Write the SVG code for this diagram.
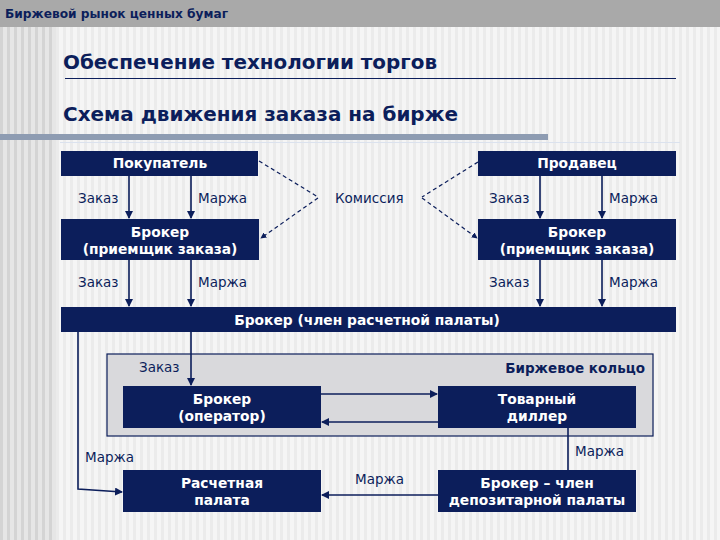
<svg xmlns="http://www.w3.org/2000/svg" width="720" height="540" viewBox="0 0 720 540">
<defs>
<pattern id="stripes" width="7" height="10" patternUnits="userSpaceOnUse">
<rect width="7" height="10" fill="#f5f5f5"/>
<rect x="0" width="3" height="10" fill="#ebebeb"/>
</pattern>
<pattern id="stripesL" width="7" height="10" patternUnits="userSpaceOnUse">
<rect width="7" height="10" fill="#e6e6e6"/>
<rect x="0" width="3" height="10" fill="#d4d4d4"/>
</pattern>
<marker id="ah" viewBox="0 0 8 8" refX="7" refY="4" markerWidth="5" markerHeight="5" orient="auto">
<path d="M0,0 L8,4 L0,8 z" fill="#0c1e5b"/>
</marker>
</defs>
<style>
.box{fill:#0c1e5b}
.bt{font-family:"DejaVu Sans",sans-serif;font-weight:bold;font-size:13.8px;fill:#ffffff;text-anchor:middle}
.lb{font-family:"DejaVu Sans",sans-serif;font-size:13.5px;fill:#0c1e5b}
.ln{stroke:#0c1e5b;stroke-width:1.6;fill:none}
.dl{stroke:#0c1e5b;stroke-width:1.2;fill:none;stroke-dasharray:4 3}
.ttl{font-family:"DejaVu Sans",sans-serif;font-weight:bold;font-size:19px;fill:#0c1e5b}
</style>
<rect width="720" height="540" fill="url(#stripes)"/>
<rect x="0" y="26" width="56" height="514" fill="url(#stripesL)"/>
<rect x="0" y="0" width="720" height="27" fill="#a9a9a9"/>
<text x="5" y="18" font-family="DejaVu Sans Condensed, DejaVu Sans, sans-serif" font-weight="bold" font-size="12.5" fill="#0c1e5b" textLength="223" lengthAdjust="spacingAndGlyphs">Биржевой рынок ценных бумаг</text>
<text class="ttl" x="63" y="69" textLength="374" lengthAdjust="spacingAndGlyphs">Обеспечение технологии торгов</text>
<line x1="65" y1="78.5" x2="676" y2="78.5" stroke="#0c1e5b" stroke-width="1.2"/>
<text class="ttl" x="63" y="121" textLength="395" lengthAdjust="spacingAndGlyphs">Схема движения заказа на бирже</text>
<rect x="0" y="134" width="548" height="6" fill="#8e9cb2"/>
<line x1="60" y1="142.5" x2="680" y2="142.5" stroke="#dbe2ee" stroke-width="1"/>

<g id="ring">
<rect x="107" y="354" width="546" height="82" fill="#d9d9dc" stroke="#0c1e5b" stroke-width="1.2"/>
<text x="645" y="373" font-family="DejaVu Sans,sans-serif" font-weight="bold" font-size="13.5" fill="#0c1e5b" text-anchor="end">Биржевое кольцо</text>
</g>

<g id="connectors">
<line class="ln" x1="129" y1="176" x2="129" y2="218" marker-end="url(#ah)"/>
<line class="ln" x1="191" y1="176" x2="191" y2="218" marker-end="url(#ah)"/>
<line class="ln" x1="540" y1="176" x2="540" y2="218" marker-end="url(#ah)"/>
<line class="ln" x1="602" y1="176" x2="602" y2="218" marker-end="url(#ah)"/>
<line class="ln" x1="129" y1="260" x2="129" y2="306" marker-end="url(#ah)"/>
<line class="ln" x1="191" y1="260" x2="191" y2="306" marker-end="url(#ah)"/>
<line class="ln" x1="540" y1="260" x2="540" y2="306" marker-end="url(#ah)"/>
<line class="ln" x1="602" y1="260" x2="602" y2="306" marker-end="url(#ah)"/>
<polyline class="dl" points="259,161 318,197"/>
<polyline class="dl" stroke-width="1.8" points="318,198 261,238" marker-end="url(#ah)"/>
<polyline class="dl" points="478,162 422,197"/>
<polyline class="dl" stroke-width="1.8" points="422,198 477,238" marker-end="url(#ah)"/>
<polyline class="ln" points="78,332 78,489 122,492" marker-end="url(#ah)"/>
<line class="ln" x1="191" y1="332" x2="191" y2="385" marker-end="url(#ah)"/>
<line class="ln" x1="321" y1="394" x2="437" y2="394" marker-end="url(#ah)"/>
<line class="ln" x1="438" y1="422" x2="322" y2="422" marker-end="url(#ah)"/>
<line class="ln" x1="568" y1="428" x2="568" y2="470"/>
<line class="ln" x1="438" y1="495" x2="322" y2="495" marker-end="url(#ah)"/>
</g>

<g id="n-buyer"><rect class="box" x="61" y="151" width="197" height="25"/><text class="bt" x="160" y="168">Покупатель</text></g>
<g id="n-seller"><rect class="box" x="478" y="151" width="198" height="25"/><text class="bt" x="577" y="168">Продавец</text></g>
<g id="n-broker-l"><rect class="box" x="61" y="219" width="198" height="41"/><text class="bt" x="160" y="237">Брокер</text><text class="bt" x="160" y="254">(приемщик заказа)</text></g>
<g id="n-broker-r"><rect class="box" x="478" y="219" width="198" height="41"/><text class="bt" x="577" y="237">Брокер</text><text class="bt" x="577" y="254">(приемщик заказа)</text></g>
<g id="n-member"><rect class="box" x="61" y="307" width="615" height="25"/><text class="bt" x="367" y="325">Брокер (член расчетной палаты)</text></g>
<g id="n-operator"><rect class="box" x="123" y="386" width="198" height="42"/><text class="bt" x="222" y="404">Брокер</text><text class="bt" x="222" y="421">(оператор)</text></g>
<g id="n-dealer"><rect class="box" x="438" y="386" width="198" height="42"/><text class="bt" x="537" y="404">Товарный</text><text class="bt" x="537" y="421">диллер</text></g>
<g id="n-clearing"><rect class="box" x="123" y="470" width="198" height="42"/><text class="bt" x="222" y="488">Расчетная</text><text class="bt" x="222" y="505">палата</text></g>
<g id="n-depo"><rect class="box" x="438" y="470" width="198" height="42"/><text class="bt" x="537" y="488">Брокер – член</text><text class="bt" x="537" y="505">депозитарной палаты</text></g>

<g id="labels">
<text class="lb" x="78" y="203">Заказ</text>
<text class="lb" x="198" y="203">Маржа</text>
<text class="lb" x="335" y="203">Комиссия</text>
<text class="lb" x="489" y="203">Заказ</text>
<text class="lb" x="609" y="203">Маржа</text>
<text class="lb" x="78" y="287">Заказ</text>
<text class="lb" x="198" y="287">Маржа</text>
<text class="lb" x="489" y="287">Заказ</text>
<text class="lb" x="609" y="287">Маржа</text>
<text class="lb" x="139" y="372">Заказ</text>
<text class="lb" x="85" y="462">Маржа</text>
<text class="lb" x="575" y="456">Маржа</text>
<text class="lb" x="355" y="484">Маржа</text>
</g>
</svg>
